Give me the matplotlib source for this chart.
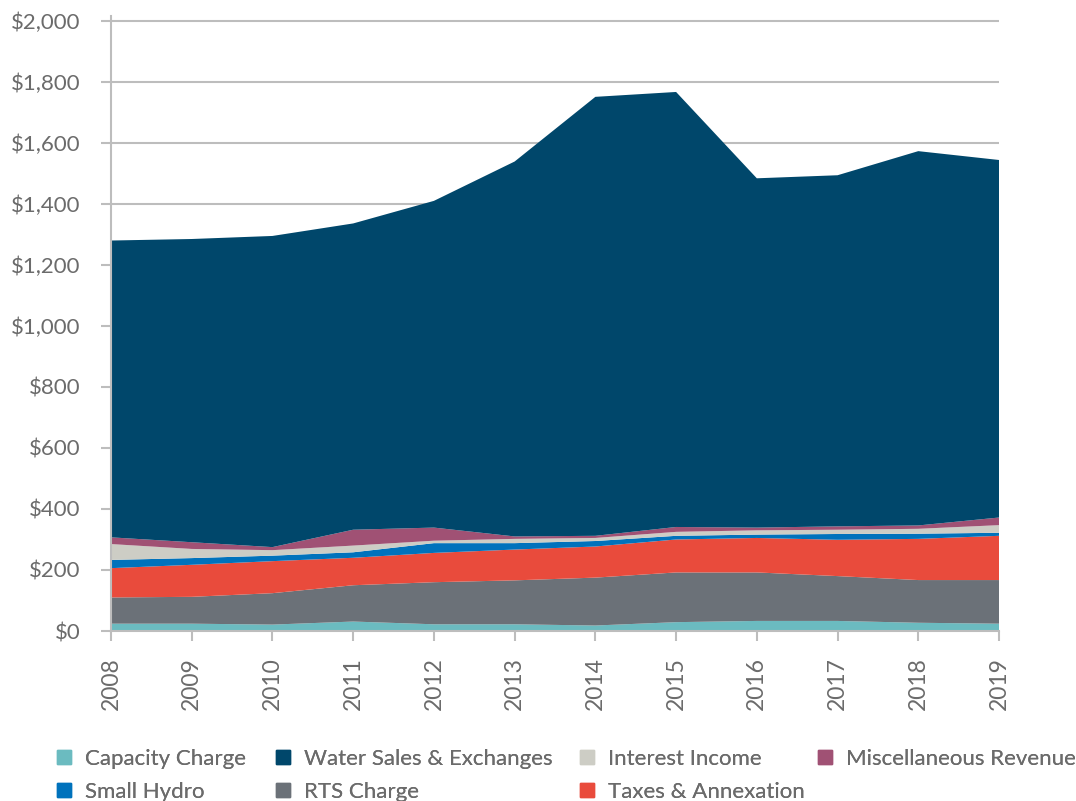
import matplotlib.pyplot as plt
from matplotlib.patches import Patch
from matplotlib.ticker import FuncFormatter

plt.rcParams['font.family'] = ['Lato', 'DejaVu Sans']

years = list(range(2008, 2020))

# revenue by source, $ millions
capacity_charge = [24, 24, 21, 31, 22, 22, 18, 29, 33, 33, 27, 24]
rts_charge = [86, 88, 103, 119, 138, 144, 157, 163, 159, 147, 140, 143]
taxes_annexation = [96, 105, 105, 90, 96, 101, 102, 108, 113, 119, 135, 145]
small_hydro = [27, 22, 18, 18, 32, 21, 18, 12, 11, 19, 17, 10]
interest_income = [52, 30, 18, 22, 8, 14, 10, 13, 14, 14, 16, 25]
misc_revenue = [22, 22, 10, 52, 43, 8, 7, 16, 9, 11, 11, 25]
water_sales = [973, 994, 1020, 1004, 1071, 1229, 1439, 1426, 1145, 1151, 1227, 1172]

C_CAP = "#6BBBC0"
C_WATER = "#00476B"
C_INT = "#CDCDC5"
C_MISC = "#A05174"
C_HYDRO = "#0072BC"
C_RTS = "#6B7178"
C_TAX = "#E94B3C"

TEXT = "#6B6B6B"
LINE = "#BDBDBD"

fig = plt.figure(figsize=(10.76, 8.01), dpi=100)
ax = fig.add_axes([111 / 1076, 1 - 631 / 801, (999 - 111) / 1076, (631 - 16) / 801])

ax.stackplot(years,
             capacity_charge, rts_charge, taxes_annexation, small_hydro,
             interest_income, misc_revenue, water_sales,
             colors=[C_CAP, C_RTS, C_TAX, C_HYDRO, C_INT, C_MISC, C_WATER],
             linewidth=0, zorder=2)

ax.set_xlim(2008, 2019)
ax.set_ylim(0, 2016)
ax.set_yticks(range(0, 2001, 200))
ax.yaxis.set_major_formatter(FuncFormatter(lambda v, p: f"${int(v):,}"))
ax.set_xticks(years)
ax.set_xticklabels([str(y) for y in years], rotation=90)

ax.grid(axis="y", color=LINE, linewidth=1.5, zorder=1)
ax.set_axisbelow(True)

for s in ["top", "right"]:
    ax.spines[s].set_visible(False)
for s in ["left", "bottom"]:
    ax.spines[s].set_color(LINE)
    ax.spines[s].set_linewidth(1.5)

ax.tick_params(axis="y", length=7, width=1.5, color=LINE, labelcolor=TEXT,
               labelsize=16, pad=15)
ax.tick_params(axis="x", length=7, width=1.5, color=LINE, labelcolor=TEXT,
               labelsize=16.5, pad=12)

# legend: one column at a time so the columns line up like the original
columns = [
    (57, [(C_CAP, "Capacity Charge"), (C_HYDRO, "Small Hydro")]),
    (276, [(C_WATER, "Water Sales & Exchanges"), (C_RTS, "RTS Charge")]),
    (580, [(C_INT, "Interest Income"), (C_TAX, "Taxes & Annexation")]),
    (818, [(C_MISC, "Miscellaneous Revenue")]),
]
for x0, items in columns:
    handles = [Patch(color=c, label=l) for c, l in items]
    leg = fig.legend(handles=handles, loc="upper left",
                     bbox_to_anchor=(x0 / 1076, 1 - 749 / 801),
                     frameon=False, fontsize=16, labelcolor=TEXT,
                     handlelength=0.62, handleheight=0.62, handletextpad=0.66,
                     labelspacing=0.58, borderaxespad=0, borderpad=0)
    fig.add_artist(leg)

fig.savefig("out.png", dpi=100)
